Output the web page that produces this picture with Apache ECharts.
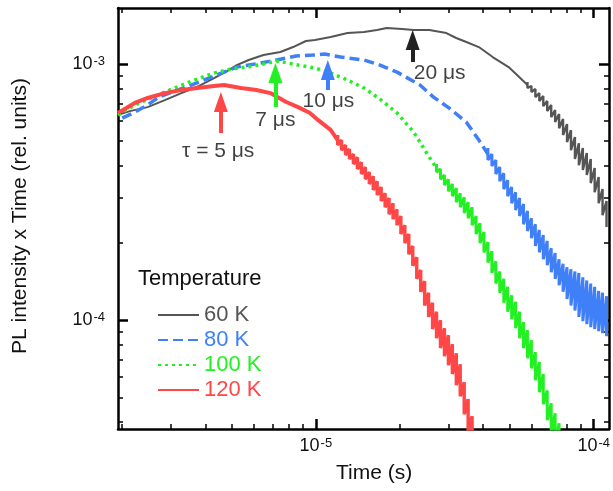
<!DOCTYPE html>
<html><head><meta charset="utf-8">
<script src="https://cdn.jsdelivr.net/npm/echarts@6/dist/echarts.min.js"></script>
<style>html,body{margin:0;padding:0;background:#fff}#c{width:613px;height:491px}</style>
</head><body><div id="c"></div>
<script>
// ---- data (time in s, PL intensity x time in rel. units) ----
// main traces
const t60 = [1.94e-6, 2.14e-6, 2.48e-6, 2.86e-6, 3.28e-6, 3.80e-6, 4.30e-6, 4.86e-6, 5.19e-6, 5.73e-6, 6.48e-6, 7.45e-6, 8.28e-6, 9.21e-6, 9.92e-6, 1.13e-5, 1.30e-5, 1.49e-5, 1.66e-5, 1.80e-5, 2.04e-5, 2.25e-5, 2.56e-5, 2.95e-5, 3.20e-5, 3.48e-5, 3.86e-5, 4.33e-5, 4.94e-5, 5.68e-5, 5.775e-5];
const v60 = [6.33e-4, 6.55e-4, 6.79e-4, 7.23e-4, 7.70e-4, 8.21e-4, 8.81e-4, 9.47e-4, 9.91e-4, 1.037e-3, 1.084e-3, 1.114e-3, 1.165e-3, 1.230e-3, 1.241e-3, 1.275e-3, 1.321e-3, 1.333e-3, 1.358e-3, 1.383e-3, 1.370e-3, 1.358e-3, 1.358e-3, 1.321e-3, 1.264e-3, 1.219e-3, 1.165e-3, 1.065e-3, 9.73e-4, 8.43e-4, 8.28e-4];

const t80 = [2.01e-6, 2.23e-6, 2.48e-6, 2.72e-6, 3.56e-6, 4.30e-6, 5.19e-6, 6.32e-6, 7.21e-6, 8.49e-6, 9.76e-6, 1.076e-5, 1.227e-5, 1.49e-5, 1.70e-5, 1.96e-5, 2.37e-5, 2.65e-5, 3.02e-5, 3.48e-5, 3.86e-5, 4.161e-5];
const v80 = [6.15e-4, 6.49e-4, 6.92e-4, 7.43e-4, 8.28e-4, 8.98e-4, 9.73e-4, 1.009e-3, 1.037e-3, 1.075e-3, 1.084e-3, 1.094e-3, 1.065e-3, 1.037e-3, 9.91e-4, 9.30e-4, 8.28e-4, 7.43e-4, 6.73e-4, 5.93e-4, 5.05e-4, 4.45e-4];

const t100 = [1.94e-6, 2.23e-6, 2.86e-6, 3.65e-6, 4.30e-6, 4.94e-6, 5.63e-6, 6.48e-6, 7.21e-6, 7.95e-6, 8.63e-6, 9.92e-6, 1.13e-5, 1.30e-5, 1.49e-5, 1.70e-5, 1.96e-5, 2.25e-5, 2.56e-5, 2.718e-5];
const v100 = [6.33e-4, 6.92e-4, 7.78e-4, 8.66e-4, 9.22e-4, 9.56e-4, 9.73e-4, 1.0e-3, 1.027e-3, 1.009e-3, 9.91e-4, 9.65e-4, 9.22e-4, 8.66e-4, 8.06e-4, 7.30e-4, 6.44e-4, 5.42e-4, 4.33e-4, 3.93e-4];

const t120 = [1.94e-6, 2.23e-6, 2.48e-6, 2.86e-6, 3.28e-6, 3.74e-6, 4.30e-6, 4.67e-6, 5.37e-6, 6.11e-6, 6.86e-6, 7.82e-6, 8.63e-6, 9.52e-6, 1.017e-5, 1.13e-5, 1.198e-5];
const v120 = [6.44e-4, 7.05e-4, 7.37e-4, 7.70e-4, 7.92e-4, 8.06e-4, 8.21e-4, 8.28e-4, 8.06e-4, 7.92e-4, 7.70e-4, 7.11e-4, 6.79e-4, 6.44e-4, 6.05e-4, 5.53e-4, 5.05e-4];

// noisy tails: upper and lower edge of the noise band read at each time
const t60n = [5.775e-5, 5.967e-5, 6.166e-5, 6.372e-5, 6.584e-5, 6.803e-5, 7.031e-5, 7.264e-5, 7.506e-5, 7.757e-5, 8.015e-5, 8.282e-5, 8.559e-5, 8.843e-5, 9.140e-5, 9.443e-5, 9.757e-5, 1.008e-4, 1.042e-4, 1.076e-4, 1.112e-4];
const v60hi = [8.51e-4, 8.21e-4, 7.99e-4, 7.71e-4, 7.50e-4, 7.17e-4, 6.92e-4, 6.61e-4, 6.38e-4, 6.10e-4, 5.83e-4, 5.52e-4, 5.19e-4, 4.91e-4, 4.70e-4, 4.49e-4, 4.26e-4, 3.93e-4, 3.62e-4, 3.25e-4, 2.92e-4];
const v60lo = [8.06e-4, 7.78e-4, 7.43e-4, 7.17e-4, 6.85e-4, 6.55e-4, 6.21e-4, 5.94e-4, 5.62e-4, 5.28e-4, 4.96e-4, 4.61e-4, 4.26e-4, 4.03e-4, 3.86e-4, 3.69e-4, 3.43e-4, 3.16e-4, 2.86e-4, 2.57e-4, 2.31e-4];

const t80n = [4.161e-5, 4.300e-5, 4.443e-5, 4.591e-5, 4.745e-5, 4.902e-5, 5.066e-5, 5.235e-5, 5.409e-5, 5.589e-5, 5.775e-5, 5.967e-5, 6.166e-5, 6.372e-5, 6.584e-5, 6.803e-5, 7.031e-5, 7.264e-5, 7.506e-5, 7.757e-5, 8.015e-5, 8.282e-5, 8.559e-5, 8.843e-5, 9.140e-5, 9.443e-5, 9.757e-5, 1.008e-4, 1.042e-4, 1.076e-4, 1.112e-4];
const v80hi = [4.70e-4, 4.45e-4, 4.22e-4, 3.96e-4, 3.75e-4, 3.52e-4, 3.31e-4, 3.16e-4, 3.00e-4, 2.84e-4, 2.67e-4, 2.50e-4, 2.37e-4, 2.25e-4, 2.15e-4, 2.04e-4, 1.91e-4, 1.83e-4, 1.73e-4, 1.66e-4, 1.61e-4, 1.58e-4, 1.55e-4, 1.53e-4, 1.47e-4, 1.43e-4, 1.39e-4, 1.35e-4, 1.30e-4, 1.28e-4, 1.24e-4];
const v80lo = [4.22e-4, 4.00e-4, 3.72e-4, 3.49e-4, 3.25e-4, 3.05e-4, 2.86e-4, 2.69e-4, 2.55e-4, 2.37e-4, 2.23e-4, 2.09e-4, 1.95e-4, 1.84e-4, 1.73e-4, 1.64e-4, 1.54e-4, 1.45e-4, 1.37e-4, 1.29e-4, 1.21e-4, 1.14e-4, 1.09e-4, 1.03e-4, 9.91e-5, 9.65e-5, 9.39e-5, 9.23e-5, 9.06e-5, 8.90e-5, 8.66e-5];

const t100n = [2.718e-5, 2.808e-5, 2.902e-5, 2.999e-5, 3.099e-5, 3.202e-5, 3.308e-5, 3.419e-5, 3.532e-5, 3.650e-5, 3.772e-5, 3.897e-5, 4.027e-5, 4.161e-5, 4.300e-5, 4.443e-5, 4.591e-5, 4.745e-5, 4.902e-5, 5.066e-5, 5.235e-5, 5.409e-5, 5.589e-5, 5.775e-5, 5.967e-5, 6.166e-5, 6.372e-5, 6.584e-5, 6.803e-5, 7.031e-5, 7.264e-5, 7.506e-5];
const v100hi = [4.07e-4, 3.89e-4, 3.69e-4, 3.55e-4, 3.40e-4, 3.28e-4, 3.13e-4, 3.02e-4, 2.89e-4, 2.76e-4, 2.55e-4, 2.39e-4, 2.21e-4, 2.02e-4, 1.86e-4, 1.70e-4, 1.55e-4, 1.45e-4, 1.35e-4, 1.25e-4, 1.18e-4, 1.08e-4, 9.82e-5, 9.14e-5, 8.35e-5, 7.50e-5, 6.86e-5, 6.16e-5, 5.32e-5, 4.74e-5, 4.33e-5, 3.96e-5];
const v100lo = [3.79e-4, 3.55e-4, 3.37e-4, 3.19e-4, 3.05e-4, 2.89e-4, 2.76e-4, 2.62e-4, 2.50e-4, 2.35e-4, 2.17e-4, 2.00e-4, 1.84e-4, 1.68e-4, 1.53e-4, 1.39e-4, 1.28e-4, 1.17e-4, 1.08e-4, 1.01e-4, 9.31e-5, 8.51e-5, 7.78e-5, 7.10e-5, 6.49e-5, 5.83e-5, 5.23e-5, 4.70e-5, 4.07e-5, 3.62e-5, 3.31e-5, 3.02e-5];

const t120n = [1.198e-5, 1.237e-5, 1.279e-5, 1.321e-5, 1.365e-5, 1.411e-5, 1.458e-5, 1.507e-5, 1.557e-5, 1.609e-5, 1.662e-5, 1.718e-5, 1.775e-5, 1.834e-5, 1.895e-5, 1.958e-5, 2.023e-5, 2.091e-5, 2.160e-5, 2.232e-5, 2.307e-5, 2.384e-5, 2.463e-5, 2.545e-5, 2.630e-5, 2.718e-5, 2.808e-5, 2.902e-5, 2.999e-5, 3.099e-5, 3.202e-5, 3.308e-5, 3.419e-5, 3.532e-5, 3.650e-5];
const v120hi = [5.28e-4, 5.05e-4, 4.83e-4, 4.66e-4, 4.45e-4, 4.33e-4, 4.14e-4, 3.96e-4, 3.79e-4, 3.65e-4, 3.49e-4, 3.31e-4, 3.13e-4, 3.00e-4, 2.86e-4, 2.71e-4, 2.55e-4, 2.35e-4, 2.17e-4, 1.95e-4, 1.76e-4, 1.57e-4, 1.42e-4, 1.28e-4, 1.17e-4, 1.08e-4, 1.00e-4, 9.31e-5, 8.74e-5, 8.06e-5, 7.43e-5, 6.73e-5, 5.73e-5, 4.92e-5, 4.22e-5];
const v120lo = [4.83e-4, 4.61e-4, 4.41e-4, 4.26e-4, 4.07e-4, 3.89e-4, 3.72e-4, 3.55e-4, 3.40e-4, 3.22e-4, 3.08e-4, 2.92e-4, 2.76e-4, 2.59e-4, 2.48e-4, 2.35e-4, 2.17e-4, 2.00e-4, 1.81e-4, 1.63e-4, 1.45e-4, 1.29e-4, 1.14e-4, 1.03e-4, 9.23e-5, 8.51e-5, 7.78e-5, 7.23e-5, 6.67e-5, 6.16e-5, 5.57e-5, 5.05e-5, 4.29e-5, 3.69e-5, 3.16e-5];

const seriesNames = ['60 K', '80 K', '100 K', '120 K'];

// ---- axes ----
const xMin = 1.94e-6, xMax = 1.135e-4;
const yMin = 3.76e-5, yMax = 1.655e-3;
const xMajor = [1e-5, 1e-4];
const xMinor = [2e-6, 3e-6, 4e-6, 5e-6, 6e-6, 7e-6, 8e-6, 9e-6, 2e-5, 3e-5, 4e-5, 5e-5, 6e-5, 7e-5, 8e-5, 9e-5];
const yMajor = [1e-4, 1e-3];
const yMinor = [4e-5, 5e-5, 6e-5, 7e-5, 8e-5, 9e-5, 2e-4, 3e-4, 4e-4, 5e-4, 6e-4, 7e-4, 8e-4, 9e-4];

// ---- annotations ----
const arrowT = [4.55e-6, 7.15e-6, 1.104e-5, 2.23e-5];
const arrowFrom = [5.38e-4, 6.79e-4, 7.92e-4, 1.018e-3];
const arrowTo = [7.11e-4, 9.22e-4, 9.47e-4, 1.241e-3];
const noteText = ['τ = 5 μs', '7 μs', '10 μs', '20 μs'];
const noteT = [4.45e-6, 7.15e-6, 1.11e-5, 2.79e-5];
const noteV = [4.57e-4, 6.05e-4, 7.17e-4, 9.22e-4];

const FONT = '"Liberation Sans", Arial, sans-serif';
const colors = ['#555555', '#3f7ff7', '#22f022', '#ff4747'];
const arrowColors = ['#ff4747', '#22f022', '#3f7ff7', '#222222'];
const arrowSeriesIdx = [3, 2, 1, 0];

function powLabel(v) {
  const e = Math.round(Math.log10(v));
  return '{a|10}{b|' + e + '}';
}
const richLab = {
  a: {fontSize: 18, fontFamily: FONT, color: '#111'},
  b: {fontSize: 13, fontFamily: FONT, color: '#111', verticalAlign: 'top', padding: [0, 0, 6, 1]}
};

function makeX(pos, major, ticks, labels) {
  return {
    type: 'log', position: pos, min: xMin, max: xMax, logBase: 10,
    axisLine: {show: major, onZero: false, lineStyle: {color: '#000', width: 2.5}},
    axisTick: {show: true, inside: true, length: major ? 10 : 5, customValues: ticks,
      lineStyle: {color: '#000', width: major ? 2.5 : 1.5}},
    axisLabel: labels ? {show: true, customValues: xMajor, formatter: powLabel, rich: richLab, margin: 8} : {show: false},
    splitLine: {show: false}, minorTick: {show: false}
  };
}
function makeY(pos, major, ticks, labels) {
  return {
    type: 'log', position: pos, min: yMin, max: yMax, logBase: 10,
    axisLine: {show: major, onZero: false, lineStyle: {color: '#000', width: 2.5}},
    axisTick: {show: true, inside: true, length: major ? 10 : 5, customValues: ticks,
      lineStyle: {color: '#000', width: major ? 2.5 : 1.5}},
    axisLabel: labels ? {show: true, customValues: yMajor, formatter: powLabel, rich: richLab, margin: 13} : {show: false},
    splitLine: {show: false}, minorTick: {show: false}
  };
}

const tSets = [t60, t80, t100, t120];
const vSets = [v60, v80, v100, v120];
const tTail = [t60n, t80n, t100n, t120n];
const hiTail = [v60hi, v80hi, v100hi, v120hi];
const loTail = [v60lo, v80lo, v100lo, v120lo];
const lineTypes = ['solid', [10, 5], [3, 4], 'solid'];
const lineWidths = [2, 3.5, 3.5, 4];
const tailWidths = [2.4, 3, 3, 3.4];

const series = seriesNames.map((name, i) => {
  const s = {
    name: name, type: 'line', xAxisIndex: 0, yAxisIndex: 0,
    showSymbol: false, symbol: 'none', silent: true,
    data: tSets[i].map((t, k) => [t, vSets[i][k]]),
    lineStyle: {color: colors[i], width: lineWidths[i], type: lineTypes[i]},
    itemStyle: {color: colors[i]}
  };
  const aIdx = arrowSeriesIdx.indexOf(i);
  s.markLine = {
    silent: true, animation: false,
    symbol: ['none', 'triangle'], symbolSize: [14, 20],
    label: {show: false},
    data: [[
      {coord: [arrowT[aIdx], arrowFrom[aIdx]]},
      {coord: [arrowT[aIdx], arrowTo[aIdx]]}
    ]],
    lineStyle: {color: arrowColors[aIdx], width: 4, type: 'solid'}
  };
  return s;
});

seriesNames.forEach((name, i) => {
  const d = [];
  tTail[i].forEach((t, k) => { d.push([t, hiTail[i][k]]); d.push([t, loTail[i][k]]); });
  series.push({
    name: name, type: 'line', xAxisIndex: 0, yAxisIndex: 0,
    showSymbol: false, symbol: 'none', silent: true, data: d,
    lineStyle: {color: colors[i], width: tailWidths[i], type: 'solid', join: 'bevel', cap: 'butt'},
    itemStyle: {color: colors[i]}
  });
});

series.push({
  name: 'notes', type: 'scatter', xAxisIndex: 0, yAxisIndex: 0, silent: true,
  symbolSize: 1, itemStyle: {color: 'rgba(0,0,0,0)'},
  data: noteT.map((t, k) => [t, noteV[k], noteText[k]]),
  label: {show: true, position: 'inside', formatter: p => p.data[2],
    fontSize: 21, fontFamily: FONT, color: '#111'}
});

const chart = echarts.init(document.getElementById('c'), null, {renderer: 'canvas'});
chart.setOption({
  animation: false,
  backgroundColor: '#fff',
  grid: {left: 118, top: 8, right: -1, bottom: 62, containLabel: false},
  xAxis: [makeX('bottom', true, xMajor, true), makeX('bottom', false, xMinor, false),
          makeX('top', true, xMajor, false), makeX('top', false, xMinor, false)],
  yAxis: [makeY('left', true, yMajor, true), makeY('left', false, yMinor, false),
          makeY('right', true, yMajor, false), makeY('right', false, yMinor, false)],
  legend: {
    orient: 'vertical', left: 152, top: 299, itemWidth: 41, itemHeight: 14, itemGap: 3,
    itemStyle: {opacity: 0},
    textStyle: {fontSize: 22, fontFamily: FONT},
    data: seriesNames.map((n, i) => ({name: n, textStyle: {color: colors[i]}}))
  },
  graphic: [
    {type: 'text', left: 138, top: 268, style: {text: 'Temperature', fontSize: 22, fontFamily: FONT, fill: '#111'}},
    {type: 'text', left: 336, top: 463, style: {text: 'Time (s)', fontSize: 21, fontFamily: FONT, fill: '#111'}},
    {type: 'text', x: 10, y: 216, rotation: Math.PI / 2, style: {text: 'PL intensity x Time (rel. units)', fontSize: 21, fontFamily: FONT, fill: '#111', align: 'center', verticalAlign: 'top'}}
  ],
  series: series
});
</script>
</body></html>
